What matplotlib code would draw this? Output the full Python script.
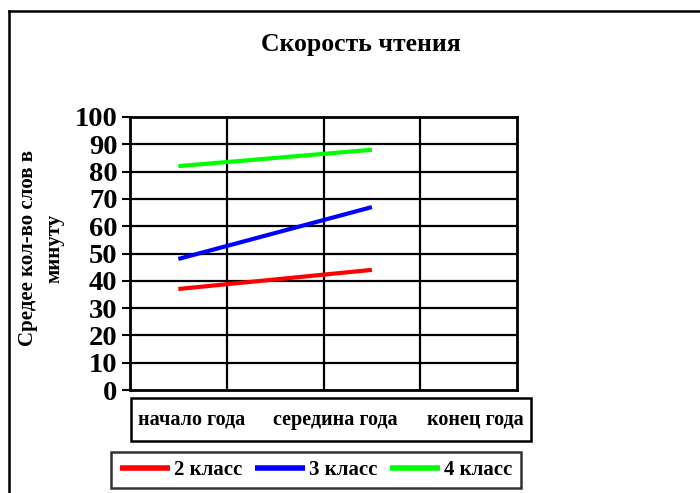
import matplotlib
matplotlib.use("Agg")
import matplotlib.pyplot as plt
from matplotlib.lines import Line2D
from matplotlib.patches import Rectangle

# --- данные ---
title = "Скорость чтения"
ylabel = "Средее кол-во слов в\nминуту"
periods = ["начало года", "середина года", "конец года"]
series_names = ["2 класс", "3 класс", "4 класс"]
slots = [0, 2]            # в каких ячейках сетки стоят точки
grade2 = [37, 44]
grade3 = [48, 67]
grade4 = [82, 88]
colors = ["#FF0000", "#0000FF", "#00FF00"]
yticks = list(range(0, 101, 10))

plt.rcParams["font.family"] = ["Liberation Serif", "DejaVu Serif"]
plt.rcParams["font.weight"] = "bold"

W, H = 700, 493
fig = plt.figure(figsize=(W / 100, H / 100), dpi=100)

def fx(px):
    return px / W

def fy(py):
    return 1 - py / H

# рамка области диаграммы (уходит за правый и нижний край)
fig.add_artist(Line2D([fx(9), fx(9)], [fy(11), 0], color="black", lw=1.8))
fig.add_artist(Line2D([fx(9), 1], [fy(11), fy(11)], color="black", lw=1.8))

ax = fig.add_axes([fx(130), fy(390), fx(517) - fx(130), fy(117) - fy(390)])
for vals, name, c in zip([grade2, grade3, grade4], series_names, colors):
    ax.plot(slots, vals, color=c, lw=3, label=name, solid_capstyle="butt")

ax.set_xlim(-0.5, 3.5)
ax.set_ylim(0, 100)
ax.set_yticks(yticks)
ax.set_xticks([])
for v in yticks[1:-1]:
    ax.axhline(v, color="black", lw=1.6, zorder=0)
for x in [0.5, 1.5, 2.5]:
    ax.axvline(x, color="black", lw=1.6, zorder=0)
for s in ax.spines.values():
    s.set_linewidth(2)
ax.tick_params(axis="y", direction="out", length=6, width=1.5, labelsize=20.5, pad=3)
for lab in ax.get_yticklabels():
    lab.set_fontweight("bold")

fig.text(fx(361), fy(45), title, ha="center", va="center", fontsize=18.5, fontweight="bold")
fig.text(fx(41), fy(248), ylabel, ha="center", va="center", rotation=90,
         fontsize=15, fontweight="bold", linespacing=1.45)

# блок подписей категорий
fig.add_artist(Rectangle((fx(131), fy(441)), fx(531) - fx(131), fy(398) - fy(441),
                         fill=False, ec="black", lw=1.8, transform=fig.transFigure))
for p, cx in zip(periods, [192, 335, 475]):
    fig.text(fx(cx), fy(420), p, ha="center", va="center", fontsize=14.5, fontweight="bold")

leg = fig.legend(loc="center", bbox_to_anchor=(fx(316), fy(470)), ncol=3, fontsize=15,
                 handlelength=2.4, handletextpad=0.2, columnspacing=0.6,
                 frameon=True, fancybox=False, borderpad=0.4)
leg.get_frame().set_edgecolor("black")
leg.get_frame().set_linewidth(1.8)
for t in leg.get_texts():
    t.set_fontweight("bold")
for h in leg.legend_handles:
    h.set_linewidth(4)

fig.savefig("out.png", dpi=100)
